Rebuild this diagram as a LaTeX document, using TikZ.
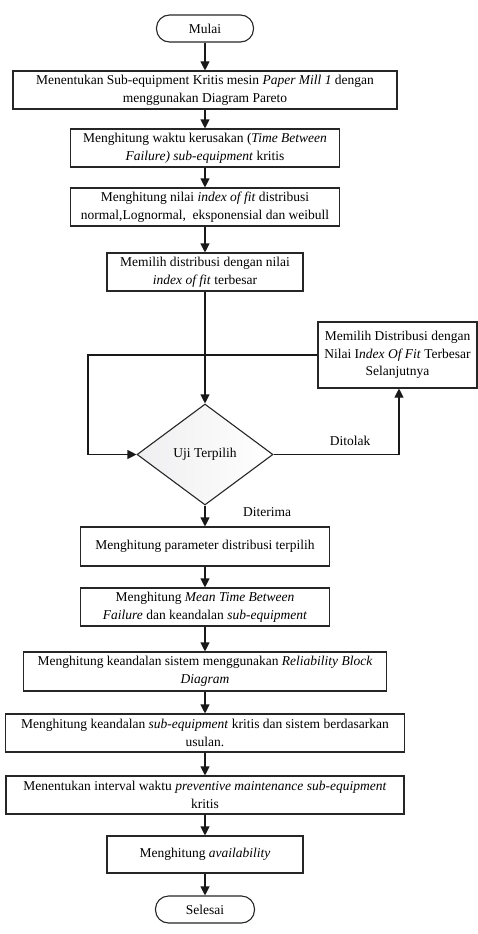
\documentclass[tikz,border=0pt]{standalone}
\usepackage{fontspec}
\setmainfont{Liberation Serif}
\usetikzlibrary{shapes.geometric,arrows.meta}
\begin{document}
\begin{tikzpicture}[x=1pt,y=-1pt,
  every node/.style={font=\fontsize{13.5}{17.6}\selectfont, text=black},
  proc/.style={draw=black!85, line width=1.1pt, rectangle, align=center, inner sep=0pt},
  term/.style={draw=black!85, line width=1.1pt, rectangle, rounded corners=13pt, align=center, inner sep=0pt},
  arr/.style={draw=black!90, line width=1.1pt, -{Triangle[length=9pt,width=9pt]}},
  ln/.style={draw=black!90, line width=1.1pt}
]
\useasboundingbox (0,0) rectangle (478,934);
\node[term, minimum width=97pt, minimum height=27pt] (mulai) at (205,28.5) {Mulai};
\node[proc, minimum width=384pt, minimum height=38pt] (b1) at (205,90) {Menentukan Sub-equipment Kritis mesin \textit{Paper Mill 1} dengan\\menggunakan Diagram Pareto};
\node[proc, minimum width=269pt, minimum height=38pt] (b2) at (205,148) {Menghitung waktu kerusakan (\textit{Time Between}\\\textit{Failure) sub-equipment} kritis};
\node[proc, minimum width=269pt, minimum height=38pt] (b3) at (205,207) {Menghitung nilai \textit{index of fit} distribusi\\normal,Lognormal,\ \ eksponensial dan weibull};
\node[proc, minimum width=196pt, minimum height=38pt] (b4) at (205,272) {Memilih distribusi dengan nilai\\\textit{index of fit} terbesar};
\node[proc, minimum width=159pt, minimum height=66pt] (rb) at (397.5,355) {Memilih Distribusi dengan\\Nilai I\textit{ndex Of Fit} Terbesar\\Selanjutnya};
\node[diamond, draw=black!85, line width=1.1pt, left color=blue!6!gray!12, right color=white, minimum width=136pt, minimum height=101pt, aspect=1.35, inner sep=0pt] (uji) at (205,454.5) {Uji Terpilih};
\node[proc, minimum width=249pt, minimum height=39pt] (param) at (205,546.5) {Menghitung parameter distribusi terpilih};
\node[proc, minimum width=249pt, minimum height=38pt] (mtbf) at (205,607) {Menghitung \textit{Mean Time Between}\\\textit{Failure} dan keandalan \textit{sub-equipment}};
\node[proc, minimum width=363pt, minimum height=39pt] (rbd) at (205,671.5) {Menghitung keandalan sistem menggunakan \textit{Reliability Block}\\\textit{Diagram}};
\node[proc, minimum width=399pt, minimum height=38pt] (kean) at (205,733) {Menghitung keandalan \textit{sub-equipment} kritis dan sistem berdasarkan\\usulan.};
\node[proc, minimum width=398pt, minimum height=38pt] (intv) at (205,795) {Menentukan interval waktu \textit{preventive maintenance sub-equipment}\\kritis};
\node[proc, minimum width=196pt, minimum height=37pt] (avail) at (205,854.5) {Menghitung \textit{availability}};
\node[term, minimum width=99pt, minimum height=27pt] (selesai) at (205,909.5) {Selesai};
\node (ditolak) at (350,441) {Ditolak};
\node (diterima) at (267,512) {Diterima};
\coordinate (lc1) at (88,355);
\coordinate (lc2) at (88,454.5);
\coordinate (rc1) at (399,454.5);
\draw[arr] (mulai) -- (b1);
\draw[arr] (b1) -- (b2);
\draw[arr] (b2) -- (b3);
\draw[arr] (b3) -- (b4);
\draw[arr] (b4) -- (uji);
\draw[arr] (uji) -- (param);
\draw[arr] (param) -- (mtbf);
\draw[arr] (mtbf) -- (rbd);
\draw[arr] (rbd) -- (kean);
\draw[arr] (kean) -- (intv);
\draw[arr] (intv) -- (avail);
\draw[arr] (avail) -- (selesai);
\draw[arr] (rb.west) -- (lc1) -- (lc2) -- (uji.west);
\draw[arr] (uji.east) -- (rc1) -- (rc1 |- rb.south);
\end{tikzpicture}
\end{document}
